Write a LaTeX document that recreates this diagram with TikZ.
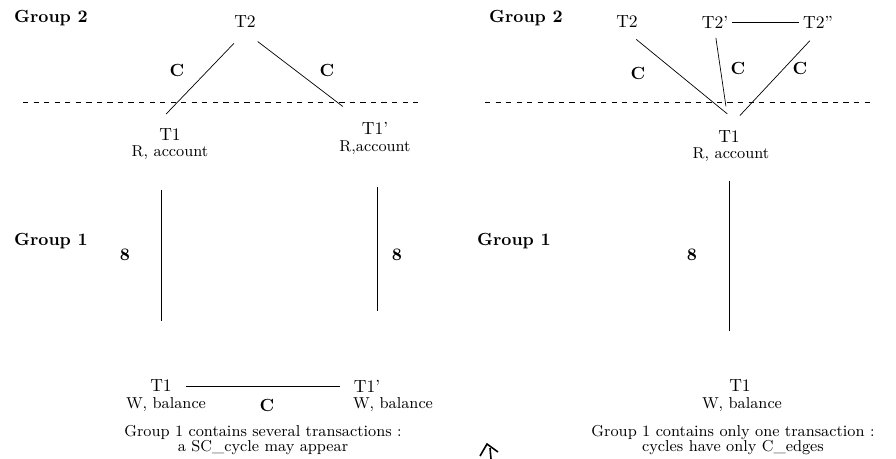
\documentclass[tikz,border=0pt]{standalone}
\usepackage{tikz}
\begin{document}
\begin{tikzpicture}[x=0.02cm,y=-0.02cm,
  grp/.style={font=\bfseries},
  elbl/.style={font=\bfseries},
  txn/.style={inner sep=2pt},
  attr/.style={font=\small,inner sep=1pt},
  note/.style={font=\small,align=center,inner sep=0pt}]
\useasboundingbox (0,0) rectangle (896,458);
% left half : several transactions in group 1
\node[grp] at (51,18) (g2l) {Group 2};
\node[grp] at (51,241) (g1l) {Group 1};
\node[txn] at (245,22) (T2l) {T2};
\node[txn] at (170,135) (T1l) {T1};
\node[attr] at (170,153) (ral) {R, account};
\node[txn] at (375,128) (T1pl) {T1'};
\node[attr] at (375,148) (rapl) {R,account};
\node[txn] at (161,386) (T1w) {T1};
\node[attr] at (166,405) (wal) {W, balance};
\node[txn] at (367,386) (T1pw) {T1'};
\node[attr] at (393,405) (wapl) {W, balance};
\draw[dashed] (23,102) -- (420,102);
\draw[shorten <=0.32cm,shorten >=0.31cm] (T2l.south) -- (T1l.north west);
\draw[shorten <=0.32cm,shorten >=0.38cm] (T2l.south) -- (T1pl.north west);
\node[elbl] at (177,70) (cl1) {C};
\node[elbl] at (327,70) (cl2) {C};
\draw[shorten <=0.55cm,shorten >=1.1cm] (T1w.north |- ral.south) -- (T1w.north);
\draw[shorten <=0.6cm,shorten >=1.5cm] (377,148 |- rapl.south) -- (377,386);
\node[elbl] at (125,255) (sl1) {8};
\node[elbl] at (397,255) (sl2) {8};
\draw[shorten <=0.2cm,shorten >=0.2cm] (T1w.east) -- (T1pw.west);
\node[elbl] at (267,405) (cl3) {C};
\node[note] at (263,440) (capl) {Group 1 contains several transactions :\\[-2pt]a SC\_cycle  may appear};
% right half : only one transaction in group 1
\node[grp] at (526,18) (g2r) {Group 2};
\node[grp] at (514,241) (g1r) {Group 1};
\node[txn] at (627,22) (T2r) {T2};
\node[txn] at (715,22) (T2pr) {T2'};
\node[txn] at (818,22) (T2ppr) {T2''};
\node[txn] at (729,137) (T1r) {T1};
\node[attr] at (731,155) (rar) {R, account};
\node[txn] at (740,386) (T1wr) {T1};
\node[attr] at (742,405) (war) {W, balance};
\draw[dashed] (485,102) -- (872,102);
\draw (T2pr.east) -- (T2ppr.west);
\draw[shorten <=0.24cm,shorten >=0.42cm] (T2r.south) -- (T1r.north east);
\draw[shorten <=0.12cm,shorten >=0.42cm] (T2pr.south) -- (T1r.north);
\draw[shorten <=0.24cm,shorten >=0.32cm] (T2ppr.south) -- (T1r.north);
\node[elbl] at (638,73) (cr1) {C};
\node[elbl] at (738,68) (cr2) {C};
\node[elbl] at (800,68) (cr3) {C};
\draw[shorten <=0.68cm,shorten >=1.1cm] (T1r.south -| 729,0) -- (729,386);
\node[elbl] at (692,255) (sr) {8};
\node[note] at (733,440) (capr) {Group 1 contains only one transaction :\\[-2pt]cycles have only C\_edges};
% stray mark
\coordinate (mk) at (487,444);
\draw[line width=0.9pt] (480,456) -- (mk) -- (498,452);
\draw[line width=0.9pt] (490,448) -- (491,459);
\end{tikzpicture}
\end{document}
